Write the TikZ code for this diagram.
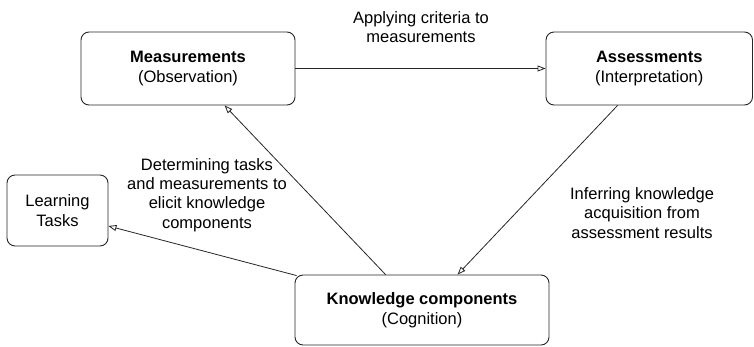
\documentclass[tikz,border=0pt]{standalone}
\usepackage{fontspec}
\setmainfont{Liberation Sans}
\usetikzlibrary{arrows.meta,calc}
\begin{document}
\begin{tikzpicture}[x=1pt,y=-1pt,
  box/.style={draw=black!85, line width=0.9pt, rounded corners=8pt, inner sep=0pt,
    align=center, font=\fontsize{16.5}{19.5}\selectfont},
  lbl/.style={align=center, inner sep=0pt, font=\fontsize{16.5}{19.3}\selectfont},
  link/.style={draw=black!85, line width=0.8pt,
    -{Triangle[open, length=8pt, width=6pt]}}]
\useasboundingbox (0,0) rectangle (754,346);

% process stages
\node[box, minimum width=214pt, minimum height=73pt] (M) at (188,68.5)
  {\textbf{Measurements}\\(Observation)};
\node[box, minimum width=206.5pt, minimum height=73pt] (A) at (649.25,68.5)
  {\textbf{Assessments}\\(Interpretation)};
\node[box, minimum width=254pt, minimum height=70pt] (K) at (422,310)
  {\textbf{Knowledge components}\\(Cognition)};
\node[box, minimum width=101pt, minimum height=71pt] (L) at (57.5,210.5)
  {Learning\\Tasks};

% edge labels
\node[lbl] (la) at (421,27) {Applying criteria to\\measurements};
\node[lbl] (ld) at (207,195) {Determining tasks\\and measurements to\\elicit knowledge\\components};
\node[lbl] (li) at (642,213) {Inferring knowledge\\acquisition from\\assessment results};

% connectors
\draw[link] (M.east) -- (A.west);
\draw[link] ($(A.south west)+(72,0)$) -- ($(K.north west)+(163,0)$);
\draw[link] ($(K.north west)+(91,0)$) -- ($(M.south west)+(144,0)$);
\draw[link] ($(K.north west)+(2,1)$) -- ($(L.east)+(0,15.5)$);
\end{tikzpicture}
\end{document}
